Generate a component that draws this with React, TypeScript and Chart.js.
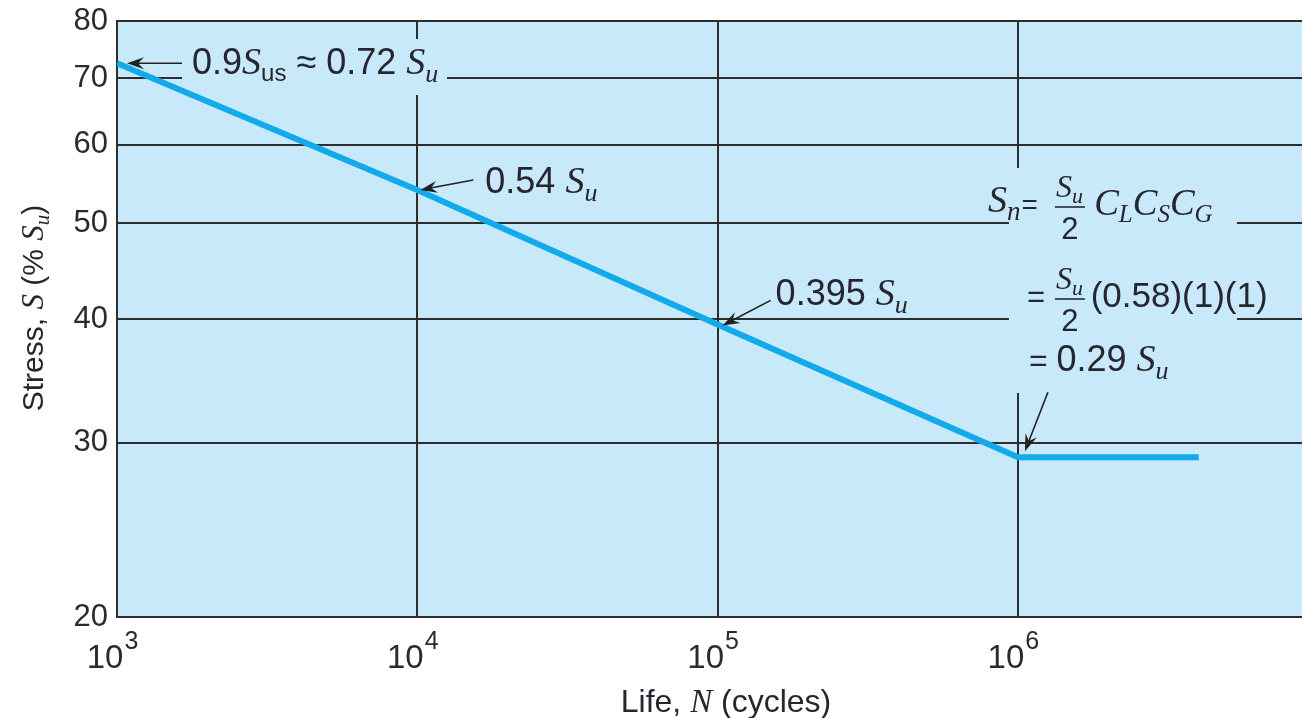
import { useEffect, useRef } from "react";
import { Chart, registerables } from "chart.js";

Chart.register(...registerables);

// ---- data ----
const lifeCycles = [1e3, 1e4, 1e5, 1e6, 4e6];
const stressPct = [72.5, 54, 39.5, 29, 29];
const xTickValues = [1e3, 1e4, 1e5, 1e6];
const xTickBase = "10";
const xTickExponents = ["3", "4", "5", "6"];
const yTickValues = [20, 30, 40, 50, 60, 70, 80];
const X_MIN = 1e3;
const X_MAX = 8.83e6;
const Y_MIN = 20;
const Y_MAX = 80;

const PLOT_BG = "#c7e9f9";
const CURVE = "#12aaea";
const GRID = "#2e2e2e";
const INK = "#262630";
const SANS = "'Liberation Sans', Arial, sans-serif";
const SERIF = "'Liberation Serif', 'Times New Roman', serif";

const sans = (s: number) => `${s}px ${SANS}`;
const ital = (s: number) => `italic ${s}px ${SERIF}`;

type Run = { t: string; f: string; dy?: number };

function runsWidth(ctx: CanvasRenderingContext2D, runs: Run[]) {
  let w = 0;
  for (const r of runs) {
    ctx.font = r.f;
    w += ctx.measureText(r.t).width;
  }
  return w;
}

function drawRuns(ctx: CanvasRenderingContext2D, runs: Run[], x: number, y: number) {
  let cx = x;
  for (const r of runs) {
    ctx.font = r.f;
    ctx.fillText(r.t, cx, y + (r.dy || 0));
    cx += ctx.measureText(r.t).width;
  }
  return cx;
}

function arrow(ctx: CanvasRenderingContext2D, x1: number, y1: number, x2: number, y2: number) {
  const a = Math.atan2(y2 - y1, x2 - x1);
  const c = Math.cos(a);
  const s = Math.sin(a);
  const L = 17;
  const W = 6;
  ctx.save();
  ctx.strokeStyle = "#222";
  ctx.fillStyle = "#222";
  ctx.lineWidth = 1.6;
  ctx.beginPath();
  ctx.moveTo(x1, y1);
  ctx.lineTo(x2 - L * 0.6 * c, y2 - L * 0.6 * s);
  ctx.stroke();
  ctx.beginPath();
  ctx.moveTo(x2, y2);
  ctx.lineTo(x2 - L * c + W * s, y2 - L * s - W * c);
  ctx.lineTo(x2 - L * 0.65 * c, y2 - L * 0.65 * s);
  ctx.lineTo(x2 - L * c - W * s, y2 - L * s + W * c);
  ctx.closePath();
  ctx.fill();
  ctx.restore();
}

function fraction(ctx: CanvasRenderingContext2D, x: number, barY: number) {
  const num: Run[] = [
    { t: "S", f: ital(32) },
    { t: "u", f: ital(22), dy: 6 },
  ];
  const w = runsWidth(ctx, num);
  drawRuns(ctx, num, x + 1, barY - 10);
  ctx.save();
  ctx.strokeStyle = INK;
  ctx.lineWidth = 1.6;
  ctx.beginPath();
  ctx.moveTo(x, barY);
  ctx.lineTo(x + w + 3, barY);
  ctx.stroke();
  ctx.restore();
  ctx.font = sans(31);
  const tw = ctx.measureText("2").width;
  ctx.fillText("2", x + (w + 3 - tw) / 2, barY + 32);
  return x + w + 3;
}

const annotations = {
  id: "annotations",
  beforeDraw(chart: any) {
    const { ctx, chartArea } = chart;
    ctx.save();
    ctx.fillStyle = PLOT_BG;
    ctx.fillRect(chartArea.left, chartArea.top, chartArea.right - chartArea.left, chartArea.bottom - chartArea.top);
    ctx.restore();
  },
  beforeDatasetsDraw(chart: any) {
    const { ctx } = chart;
    const xs = chart.scales.x;
    const ys = chart.scales.y;
    const p0x = xs.getPixelForValue(lifeCycles[0]);
    const p3x = xs.getPixelForValue(lifeCycles[3]);
    ctx.save();
    ctx.fillStyle = PLOT_BG;
    // text backgrounds interrupting the grid
    ctx.fillRect(p0x + 65, ys.top + 18, 265, 56);
    ctx.fillRect(p3x - 9, ys.top + 147, 228, 225);
    ctx.restore();
  },
  afterDatasetsDraw(chart: any) {
    const { ctx } = chart;
    const xs = chart.scales.x;
    const ys = chart.scales.y;
    const pt = (i: number) => ({ x: xs.getPixelForValue(lifeCycles[i]), y: ys.getPixelForValue(stressPct[i]) });
    const p0 = pt(0);
    const p1 = pt(1);
    const p2 = pt(2);
    const p3 = pt(3);
    ctx.save();
    ctx.fillStyle = INK;
    ctx.textBaseline = "alphabetic";
    ctx.textAlign = "left";

    // annotation 1
    arrow(ctx, p0.x + 65, p0.y, p0.x + 10, p0.y);
    drawRuns(
      ctx,
      [
        { t: "0.9", f: sans(36) },
        { t: "S", f: ital(38) },
        { t: "us", f: sans(24), dy: 7 },
        { t: " \u2248 0.72 ", f: sans(36) },
        { t: "S", f: ital(38) },
        { t: "u", f: ital(26), dy: 8 },
      ],
      p0.x + 75,
      p0.y + 11
    );

    // annotation 2
    arrow(ctx, p1.x + 56, p1.y - 10, p1.x + 3, p1.y);
    drawRuns(
      ctx,
      [
        { t: "0.54 ", f: sans(36) },
        { t: "S", f: ital(38) },
        { t: "u", f: ital(26), dy: 8 },
      ],
      p1.x + 68,
      p1.y + 3
    );

    // annotation 3
    arrow(ctx, p2.x + 53, p2.y - 24, p2.x + 5, p2.y + 1);
    drawRuns(
      ctx,
      [
        { t: "0.395 ", f: sans(36) },
        { t: "S", f: ital(38) },
        { t: "u", f: ital(26), dy: 8 },
      ],
      p2.x + 58,
      p2.y - 19
    );

    // annotation 4 (formula)
    arrow(ctx, p3.x + 30, p3.y - 65, p3.x + 7, p3.y - 6);
    const fx = p3.x;
    const top = ys.top;
    let cx = drawRuns(
      ctx,
      [
        { t: "S", f: ital(38) },
        { t: "n", f: ital(27), dy: 8 },
      ],
      fx - 30,
      top + 191
    );
    ctx.font = sans(28);
    ctx.fillText("=", cx + 1, top + 193);
    cx = fraction(ctx, fx + 37, top + 186);
    drawRuns(
      ctx,
      [
        { t: " C", f: ital(37) },
        { t: "L", f: ital(25), dy: 7 },
        { t: "C", f: ital(37) },
        { t: "S", f: ital(25), dy: 7 },
        { t: "C", f: ital(37) },
        { t: "G", f: ital(25), dy: 7 },
      ],
      cx,
      top + 194
    );

    ctx.font = sans(31);
    ctx.fillText("=", fx + 9, top + 286);
    cx = fraction(ctx, fx + 37, top + 278);
    ctx.font = sans(35);
    ctx.fillText(" (0.58)(1)(1)", cx - 4, top + 286);

    drawRuns(
      ctx,
      [
        { t: "= ", f: sans(32) },
        { t: "0.29 ", f: sans(36) },
        { t: "S", f: ital(38) },
        { t: "u", f: ital(26), dy: 8 },
      ],
      fx + 11,
      top + 350
    );

    // x tick labels with superscripts
    ctx.fillStyle = "#2b2b2b";
    xTickValues.forEach((v, i) => {
      const px = xs.getPixelForValue(v);
      ctx.font = sans(33);
      const bw = ctx.measureText(xTickBase).width;
      ctx.font = sans(25);
      const ew = ctx.measureText(xTickExponents[i]).width;
      const start = px - (bw + ew) / 2 - 5;
      ctx.font = sans(33);
      ctx.fillText(xTickBase, start, ys.bottom + 51);
      ctx.font = sans(25);
      ctx.fillText(xTickExponents[i], start + bw + 1, ys.bottom + 32);
    });

    // x axis title
    ctx.fillStyle = INK;
    const xt: Run[] = [
      { t: "Life, ", f: sans(32) },
      { t: "N", f: ital(33) },
      { t: " (cycles)", f: sans(32) },
    ];
    const xtw = runsWidth(ctx, xt);
    drawRuns(ctx, xt, 726 - xtw / 2, ys.bottom + 95);

    // y axis title (rotated)
    const yt: Run[] = [
      { t: "Stress, ", f: sans(30) },
      { t: "S", f: ital(31) },
      { t: " (% ", f: sans(30) },
      { t: "S", f: ital(31) },
      { t: "u", f: ital(21), dy: 6 },
      { t: ")", f: sans(30) },
    ];
    const ytw = runsWidth(ctx, yt);
    ctx.translate(43, 308);
    ctx.rotate(-Math.PI / 2);
    drawRuns(ctx, yt, -ytw / 2, 0);
    ctx.restore();
  },
};

export default function App() {
  const ref = useRef<HTMLCanvasElement>(null);
  useEffect(() => {
    const canvas = ref.current;
    if (!canvas) return;
    const chart = new Chart(canvas, {
      type: "line",
      data: {
        datasets: [
          {
            data: lifeCycles.map((x, i) => ({ x, y: stressPct[i] })),
            borderColor: CURVE,
            borderWidth: 6,
            pointRadius: 0,
            tension: 0,
            fill: false,
            borderJoinStyle: "miter",
          },
        ],
      },
      options: {
        animation: false,
        responsive: false,
        devicePixelRatio: 1,
        layout: { padding: { top: 21, right: 0, left: 0, bottom: 0 } },
        plugins: { legend: { display: false }, tooltip: { enabled: false } },
        scales: {
          x: {
            type: "logarithmic",
            min: X_MIN,
            max: X_MAX,
            afterBuildTicks: (s: any) => {
              s.ticks = xTickValues.map((value) => ({ value }));
            },
            afterFit: (s: any) => {
              s.height = 101;
              s.paddingLeft = 0;
              s.paddingRight = 0;
            },
            ticks: { display: false },
            grid: { color: GRID, lineWidth: 2, drawTicks: false },
            border: { color: GRID, width: 2 },
          },
          y: {
            type: "logarithmic",
            min: Y_MIN,
            max: Y_MAX,
            afterBuildTicks: (s: any) => {
              s.ticks = yTickValues.map((value) => ({ value }));
            },
            afterFit: (s: any) => {
              s.width = 117;
              s.paddingTop = 0;
              s.paddingBottom = 0;
            },
            ticks: {
              padding: 9,
              color: "#2b2b2b",
              font: { family: SANS, size: 31 },
              callback: (v: any) => String(v),
            },
            grid: { color: GRID, lineWidth: 2, drawTicks: false },
            border: { color: GRID, width: 2 },
          },
        },
      },
      plugins: [annotations],
    } as any);
    return () => chart.destroy();
  }, []);
  return (
    <div style={{ position: "absolute", left: 0, top: 0, width: 1302, height: 718, background: "#fff" }}>
      <canvas ref={ref} width={1302} height={718} style={{ display: "block" }} />
    </div>
  );
}
